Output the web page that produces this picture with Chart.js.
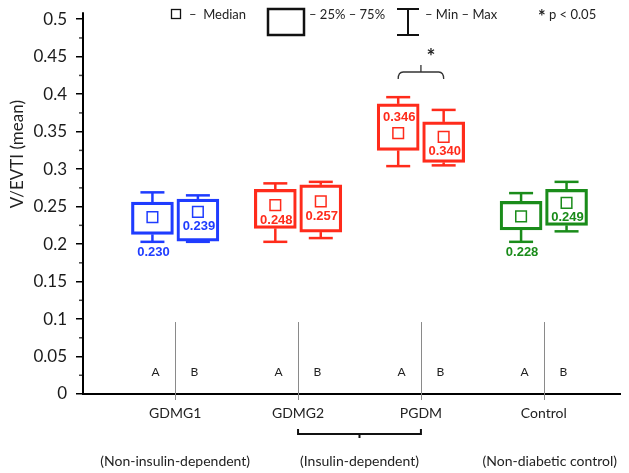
<!DOCTYPE html>
<html>
<head>
<meta charset="utf-8">
<script src="https://cdn.jsdelivr.net/npm/chart.js@4.4.1/dist/chart.umd.min.js"></script>
<style>
  html, body { margin: 0; padding: 0; background: #fff; }
  #wrap { width: 629px; height: 473px; }
</style>
</head>
<body>
<div id="wrap"><canvas id="boxChart"></canvas></div>
<script>
// values, A = left box and B = right box of every group
var groups = ['GDMG1', 'GDMG2', 'PGDM', 'Control'];
var groupPos = [1, 2, 3, 4];
var groupNotes = ['(Non-insulin-dependent)', '(Insulin-dependent)', '(Non-diabetic control)'];
var boxGroup = [0, 0, 1, 1, 2, 2, 3, 3];
var boxSide = ['A', 'B', 'A', 'B', 'A', 'B', 'A', 'B'];
var mins    = [0.203, 0.203, 0.203, 0.208, 0.304, 0.305, 0.203, 0.217];
var q1      = [0.213, 0.204, 0.221, 0.216, 0.325, 0.309, 0.219, 0.225];
var medians = [0.236, 0.243, 0.252, 0.257, 0.348, 0.343, 0.237, 0.255];
var q3      = [0.256, 0.260, 0.273, 0.279, 0.387, 0.363, 0.257, 0.273];
var maxs    = [0.269, 0.265, 0.281, 0.283, 0.396, 0.379, 0.268, 0.283];
var valueLabels = ['0.230', '0.239', '0.248', '0.257', '0.346', '0.340', '0.228', '0.249'];

// styling
var fontFamily = 'Lato, "Open Sans", sans-serif';
var labelFont = 'bold 13px "Liberation Sans Narrow", "Liberation Sans", sans-serif';
var palette = ['#1f3cff', '#ff2b1b', '#ff2b1b', '#1a8c1a'];
var boxColors = boxGroup.map(function (g) { return palette[g]; });
var sideShift = 0.185;
var boxX = boxGroup.map(function (g, i) {
  return groupPos[g] + (boxSide[i] === 'A' ? -sideShift : sideShift);
});
// where the number sits next to its box
var labelSpot = ['belowMin', 'underMed', 'underMed', 'underMed', 'overMed', 'underMed', 'belowMin', 'underMed'];

function line(c, x1, y1, x2, y2) {
  c.beginPath();
  c.moveTo(x1, y1);
  c.lineTo(x2, y2);
  c.stroke();
}

var boxExtras = {
  id: 'boxExtras',
  beforeDatasetsDraw: function (chart) {
    var c = chart.ctx, xs = chart.scales.x, ys = chart.scales.y, area = chart.chartArea;
    c.save();
    // A | B separators
    c.strokeStyle = '#8a8a8a';
    c.lineWidth = 1;
    c.font = '12px ' + fontFamily;
    c.fillStyle = '#222';
    c.textAlign = 'center';
    c.textBaseline = 'middle';
    groupPos.forEach(function (g) {
      var px = Math.round(xs.getPixelForValue(g)) + 0.5;
      line(c, px, ys.getPixelForValue(0.096), px, area.bottom + 6);
      c.fillText('A', px - 20, ys.getPixelForValue(0.029));
      c.fillText('B', px + 19, ys.getPixelForValue(0.029));
    });
    // minor ticks on the y axis
    c.strokeStyle = '#444';
    c.lineWidth = 1.5;
    for (var v = 0.025; v < 0.5; v += 0.05) {
      var py = ys.getPixelForValue(v);
      line(c, area.left - 4, py, area.left - 1, py);
    }
    // axis runs a little past 0.5
    c.strokeStyle = '#000';
    c.lineWidth = 2;
    line(c, area.left, area.top + 1, area.left, area.top - 7);
    c.restore();
  },
  afterDatasetsDraw: function (chart) {
    var c = chart.ctx, xs = chart.scales.x, ys = chart.scales.y, area = chart.chartArea;
    c.save();
    // whiskers
    c.lineWidth = 2.5;
    boxX.forEach(function (bx, i) {
      var px = xs.getPixelForValue(bx);
      var yMin = ys.getPixelForValue(mins[i]), yMax = ys.getPixelForValue(maxs[i]);
      c.strokeStyle = boxColors[i];
      line(c, px, ys.getPixelForValue(q3[i]), px, yMax);
      line(c, px, ys.getPixelForValue(q1[i]), px, yMin);
      line(c, px - 12, yMax, px + 12, yMax);
      line(c, px - 12, yMin, px + 12, yMin);
    });
    // numbers
    c.font = labelFont;
    c.textAlign = 'center';
    c.textBaseline = 'middle';
    boxX.forEach(function (bx, i) {
      var px = xs.getPixelForValue(bx);
      var py;
      if (labelSpot[i] === 'belowMin') py = ys.getPixelForValue(mins[i]) + 11;
      else if (labelSpot[i] === 'overMed') py = ys.getPixelForValue(medians[i]) - 16;
      else py = ys.getPixelForValue(medians[i]) + 15;
      c.fillStyle = boxColors[i];
      c.fillText(valueLabels[i], px + 1, py);
    });

    // y title
    c.save();
    c.translate(18, ys.getPixelForValue(0.32));
    c.rotate(-Math.PI / 2);
    c.font = '17px ' + fontFamily;
    c.fillStyle = '#222';
    c.fillText('V/EVTI (mean)', 0, 0);
    c.restore();

    // key at the top
    c.strokeStyle = '#111';
    c.fillStyle = '#222';
    c.lineWidth = 1.3;
    c.strokeRect(171.5, 9.5, 9, 9);
    c.font = '13px ' + fontFamily;
    c.textAlign = 'left';
    c.fillText('\u2013  Median', 189, 15);
    c.lineWidth = 2.5;
    c.strokeRect(268, 9, 36, 26);
    c.fillText('\u2013 25% \u2013 75%', 309, 15);
    c.lineWidth = 2;
    line(c, 397, 9, 419, 9);
    line(c, 408, 9, 408, 35);
    line(c, 397, 35, 419, 35);
    c.fillText('\u2013 Min \u2013 Max', 425, 15);
    c.font = 'bold 18px ' + fontFamily;
    c.fillText('*', 538, 17);
    c.font = '13px ' + fontFamily;
    c.fillText('p < 0.05', 549, 15);

    // significance bracket over PGDM
    var bl = xs.getPixelForValue(boxX[4]), br = xs.getPixelForValue(boxX[5]);
    var by = 72, bm = (bl + br) / 2;
    c.strokeStyle = '#333';
    c.lineWidth = 1.3;
    c.beginPath();
    c.moveTo(bl, by + 7);
    c.quadraticCurveTo(bl, by, bl + 5, by);
    c.lineTo(br - 5, by);
    c.quadraticCurveTo(br, by, br, by + 7);
    c.stroke();
    line(c, bm, by, bm, by - 7);
    c.font = 'bold 21px ' + fontFamily;
    c.textAlign = 'center';
    c.fillStyle = '#222';
    c.fillText('*', bm + 10, 57);

    // bracket joining GDMG2 and PGDM below the axis
    var l2 = xs.getPixelForValue(groupPos[1]), r2 = xs.getPixelForValue(groupPos[2]);
    var ly = 434;
    c.strokeStyle = '#111';
    c.lineWidth = 2;
    c.beginPath();
    c.moveTo(l2, ly - 5);
    c.lineTo(l2, ly);
    c.lineTo(r2, ly);
    c.lineTo(r2, ly - 5);
    c.stroke();
    line(c, (l2 + r2) / 2, ly, (l2 + r2) / 2, ly + 4);

    // group notes
    c.font = '14px ' + fontFamily;
    c.fillStyle = '#222';
    c.textBaseline = 'middle';
    c.fillText(groupNotes[0], xs.getPixelForValue(groupPos[0]), 461);
    c.fillText(groupNotes[1], (l2 + r2) / 2, 461);
    c.fillText(groupNotes[2], xs.getPixelForValue(groupPos[3]) + 6, 461);
    c.restore();
  }
};

var ctx = document.getElementById('boxChart').getContext('2d');
var chart = new Chart(ctx, {
  type: 'bar',
  data: {
    datasets: [{
      // 25% - 75% boxes
      type: 'bar',
      data: boxX.map(function (x, i) { return { x: x, y: [q1[i], q3[i]] }; }),
      backgroundColor: 'rgba(255,255,255,0)',
      borderColor: boxColors,
      borderWidth: 2.5,
      borderSkipped: false,
      barThickness: 42,
      order: 2
    }, {
      // medians
      type: 'scatter',
      data: boxX.map(function (x, i) { return { x: x, y: medians[i] }; }),
      pointStyle: 'rect',
      pointRadius: 7.5,
      pointBorderWidth: 1.5,
      pointBorderColor: boxColors,
      pointBackgroundColor: 'rgba(255,255,255,0)',
      order: 1
    }]
  },
  options: {
    responsive: true,
    maintainAspectRatio: false,
    animation: false,
    layout: { padding: { top: 19, right: 0, bottom: 0, left: 0 } },
    plugins: {
      legend: { display: false },
      tooltip: { enabled: false }
    },
    scales: {
      x: {
        type: 'linear',
        min: 0.25,
        max: 4.62,
        offset: false,
        afterBuildTicks: function (s) {
          s.ticks = groupPos.map(function (v) { return { value: v }; });
        },
        afterFit: function (s) { s.height = 79; },
        ticks: {
          callback: function (v, i) { return groups[i]; },
          font: { family: fontFamily, size: 14 },
          color: '#222',
          padding: 3,
          maxRotation: 0,
          autoSkip: false
        },
        grid: { display: false },
        border: { color: '#000', width: 2 }
      },
      y: {
        min: 0,
        max: 0.5,
        afterFit: function (s) { s.width = 83; },
        ticks: {
          stepSize: 0.05,
          callback: function (v) { return String(+v.toFixed(2)); },
          font: { family: fontFamily, size: 17 },
          color: '#1a1a1a',
          padding: 9
        },
        grid: { drawOnChartArea: false, tickLength: 7, color: '#000', lineWidth: 1.5 },
        border: { color: '#000', width: 2 }
      }
    }
  },
  plugins: [boxExtras]
});
</script>
</body>
</html>
